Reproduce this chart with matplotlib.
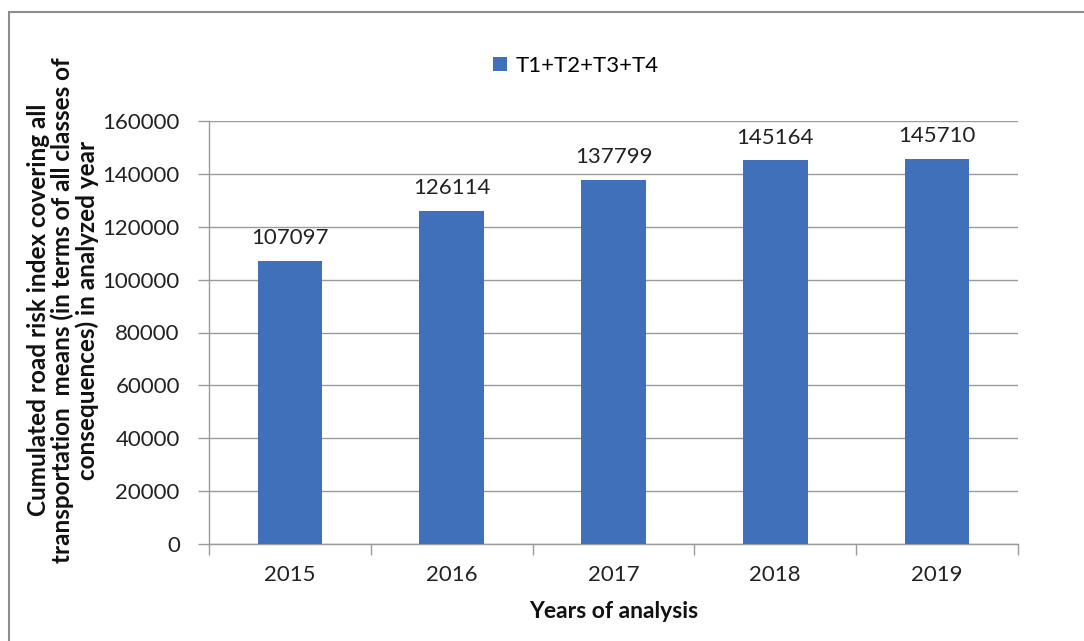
import matplotlib
matplotlib.use("Agg")
import matplotlib.pyplot as plt
from matplotlib.patches import Rectangle

years = ["2015", "2016", "2017", "2018", "2019"]
values = [107097, 126114, 137799, 145164, 145710]
series_name = "T1+T2+T3+T4"
yticks = [0, 20000, 40000, 60000, 80000, 100000, 120000, 140000, 160000]

plt.rcParams['font.family'] = ['Lato', 'DejaVu Sans']

W, H = 1084, 641
fig = plt.figure(figsize=(W / 100, H / 100), dpi=100)
ax = fig.add_axes([209 / W, 1 - 544 / H, (1018 - 209) / W, (544 - 121) / H])

bar_color = '#3F70B9'
grid_color = '#9A9A9A'
x = list(range(len(years)))
bars = ax.bar(x, values, width=0.4, color=bar_color, label=series_name, zorder=3)

ax.set_xlim(-0.5, len(years) - 0.5)
ax.set_ylim(0, 160000)
ax.set_yticks(yticks)
ax.set_yticklabels([str(v) for v in yticks])
ax.set_xticks(x)
ax.set_xticklabels(years)
ax.set_xticks([i - 0.5 for i in range(len(years) + 1)], minor=True)
ax.tick_params(axis='x', which='major', length=0, pad=15, labelsize=16, colors='#222222')
ax.tick_params(axis='x', which='minor', length=8, color=grid_color, width=1)
ax.tick_params(axis='y', length=8, color=grid_color, width=1, pad=13, labelsize=16, labelcolor='#222222')

ax.yaxis.grid(True, color=grid_color, linewidth=1, zorder=0)
ax.set_axisbelow(True)
for s in ['top', 'right']:
    ax.spines[s].set_visible(False)
for s in ['left', 'bottom']:
    ax.spines[s].set_color(grid_color)
    ax.spines[s].set_linewidth(1)

for xi, v in zip(x, values):
    ax.annotate(str(v), (xi, v), xytext=(0, 9), textcoords='offset points',
                ha='center', va='bottom', fontsize=16, color='#222222')

ax.set_xlabel("Years of analysis", fontsize=16.5, fontweight='bold', labelpad=12, color='#111111')
fig.text(63 / W, 1 - 310 / H,
         "Cumulated road risk index covering all\ntransportation  means (in terms of all classes of\nconsequences) in analyzed year",
         rotation=90, ha='center', va='center', fontsize=17.5, fontweight='bold',
         color='#111111', multialignment='center', linespacing=1.05)

leg = fig.legend(handles=[bars], labels=[series_name], loc='center',
                 bbox_to_anchor=(576 / W, 1 - 66 / H), frameon=False, fontsize=16,
                 handlelength=0.6, handleheight=0.6, handletextpad=0.4)

fig.patches.append(Rectangle((9 / W, -0.05), 1.1, 1 - 12 / H + 0.05, transform=fig.transFigure,
                             fill=False, edgecolor='#8C8C8C', linewidth=1.5))

fig.savefig("out.png", dpi=100)
